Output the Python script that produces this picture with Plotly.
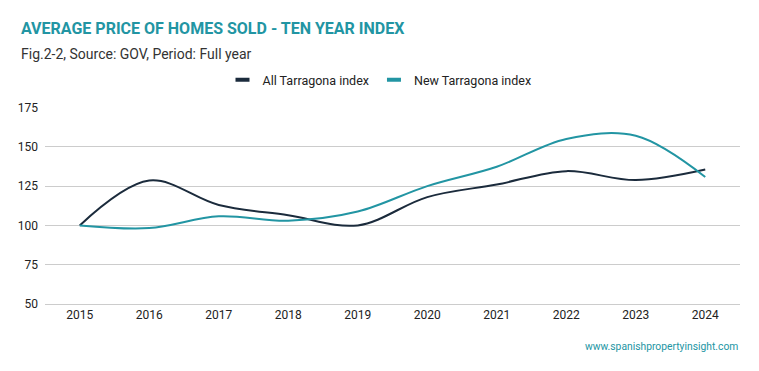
import plotly.graph_objects as go

years = ["2015", "2016", "2017", "2018", "2019", "2020", "2021", "2022", "2023", "2024"]
all_tarragona = [100, 128.5, 113, 106.5, 100, 118, 126, 134.5, 128.8, 135.5]
new_tarragona = [100, 98.3, 105.8, 103, 108.8, 125, 137.3, 155, 157, 130.8]
series_names = ["All Tarragona index", "New Tarragona index"]
y_ticks = [50, 75, 100, 125, 150, 175]

DARK = "#1b2b3c"
TEAL = "#2295a3"
FONT = "Roboto"

fig = go.Figure()
for name, vals, col in [(series_names[0], all_tarragona, DARK), (series_names[1], new_tarragona, TEAL)]:
    fig.add_trace(go.Scatter(
        x=years, y=vals, mode="lines", name=name,
        line=dict(color=col, width=2, shape="spline", smoothing=1.0),
        showlegend=False, hoverinfo="x+y+name",
    ))
    fig.add_trace(go.Scatter(
        x=[None], y=[None], mode="markers", name=name,
        marker=dict(symbol="line-ew-open", size=10, color=col, line=dict(color=col, width=4)),
        showlegend=True,
    ))

fig.update_layout(
    width=759, height=371,
    margin=dict(l=45, r=19, t=107, b=67, autoexpand=False),
    paper_bgcolor="white", plot_bgcolor="white",
    font=dict(family=FONT, size=12, color="#222222"),
    showlegend=True,
    legend=dict(
        orientation="h", xref="container", yref="container",
        x=0.5, xanchor="center", y=1 - 80 / 371, yanchor="middle",
        font=dict(family=FONT, size=12.5, color="#222222"),
        itemwidth=30, traceorder="normal",
    ),
    xaxis=dict(
        type="category", range=[-0.5, 9.5], showgrid=False,
        showline=True, linecolor="#cccccc", linewidth=1,
        zeroline=False, ticks="", tickfont=dict(size=12, color="#222222"),
        automargin=False,
    ),
    yaxis=dict(
        range=[50, 175.3], tickvals=y_ticks, showgrid=True, gridcolor="#cccccc",
        gridwidth=1, zeroline=False, showline=False, ticks="",
        tickfont=dict(size=12, color="#222222"), ticklabelstandoff=6,
        automargin=False,
    ),
)

fig.add_annotation(
    text="<b>AVERAGE PRICE OF HOMES SOLD - TEN YEAR INDEX</b>",
    xref="paper", yref="paper", x=0, y=1, xanchor="left", yanchor="middle",
    xshift=-26, yshift=107 - 28,
    showarrow=False, font=dict(family=FONT, size=16, color=TEAL),
)
fig.add_annotation(
    text="Fig.2-2, Source: GOV, Period: Full year",
    xref="paper", yref="paper", x=0, y=1, xanchor="left", yanchor="middle",
    xshift=-26, yshift=107 - 54,
    showarrow=False, font=dict(family=FONT, size=14, color="#333333"),
)
fig.add_annotation(
    text="www.spanishpropertyinsight.com",
    xref="paper", yref="paper", x=1, y=0, xanchor="right", yanchor="middle",
    xshift=0, yshift=-(346 - 304),
    showarrow=False, font=dict(family=FONT, size=10.3, color=TEAL),
)

fig.write_html(
    "out.html",
    config={"displayModeBar": False},
    post_script="document.body.style.margin='0';document.body.style.padding='0';",
)
